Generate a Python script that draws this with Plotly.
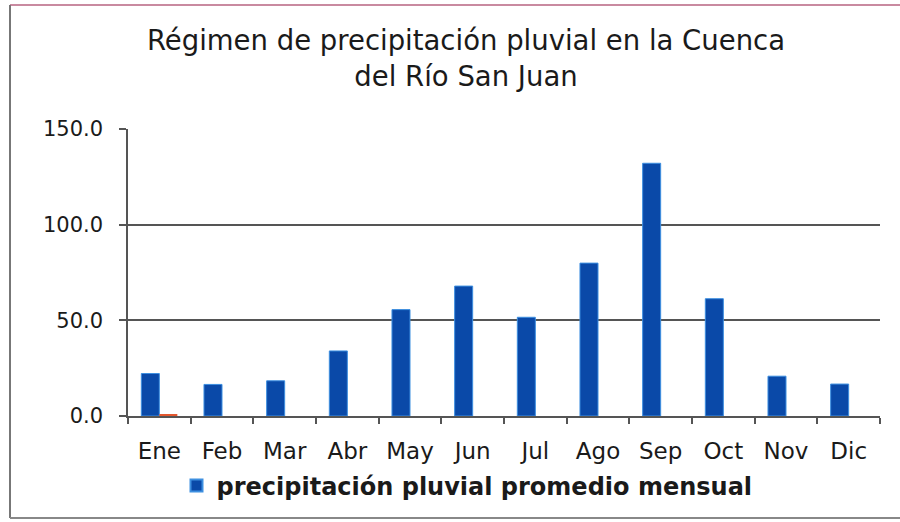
import plotly.graph_objects as go

meses = ["Ene", "Feb", "Mar", "Abr", "May", "Jun", "Jul", "Ago", "Sep", "Oct", "Nov", "Dic"]
precipitacion = [22.2, 16.5, 18.4, 34.0, 55.6, 67.9, 51.6, 79.9, 132.1, 61.3, 20.8, 16.7]
serie_secundaria = [1.0, 0, 0, 0, 0, 0, 0, 0, 0, 0, 0, 0]
y_ticks = [0, 50, 100, 150]
y_tick_labels = ["0.0", "50.0", "100.0", "150.0"]

W, H = 900, 522
L, R, T, B = 128, 20, 129, 106
pw = W - L - R
ph = H - T - B

def px(x):
    return (x - L) / pw

def py(y):
    return (H - B - y) / ph

FONT = "DejaVu Sans, Noto Sans, sans-serif"

fig = go.Figure()
fig.add_trace(go.Bar(
    x=meses, y=precipitacion,
    name="precipitación pluvial promedio mensual",
    marker=dict(color="#0A49A8", line=dict(color="#3D8FE0", width=1)),
))
fig.add_trace(go.Bar(
    x=meses, y=serie_secundaria,
    name="serie 2", showlegend=False,
    marker=dict(color="#E4572E", line=dict(width=0)),
))

fig.update_layout(
    width=W, height=H,
    margin=dict(l=L, r=R, t=T, b=B),
    paper_bgcolor="white", plot_bgcolor="white",
    barmode="group", bargap=0.425, bargroupgap=0,
    font=dict(family=FONT, color="#1a1a1a"),
    title=dict(
        text="Régimen de precipitación pluvial en la Cuenca<br>del Río San Juan",
        x=466 / W, xanchor="center",
        y=1 - 50 / H, yanchor="middle",
        font=dict(size=27.5, color="#1a1a1a", family=FONT),
    ),
    xaxis=dict(
        type="category",
        showline=True, linecolor="#555", linewidth=1.5,
        ticks="outside", ticklen=6, tickcolor="#555", tickwidth=1.5,
        tickson="boundaries",
        ticklabelstandoff=14,
        tickfont=dict(size=23, color="#1a1a1a"),
        showgrid=False,
    ),
    yaxis=dict(
        range=[0, 150],
        tickvals=y_ticks, ticktext=y_tick_labels,
        showline=True, linecolor="#555", linewidth=1.5,
        ticks="outside", ticklen=7, tickcolor="#555", tickwidth=1.5,
        ticklabelstandoff=12,
        showgrid=True, gridcolor="#555", gridwidth=1.5,
        zeroline=False,
        tickfont=dict(size=21, color="#1a1a1a"),
    ),
    legend=dict(
        orientation="h",
        x=px(467), xanchor="center",
        y=py(486), yanchor="middle",
        font=dict(size=24, color="#1a1a1a", family=FONT, weight="bold"),
        itemsizing="constant",
    ),
    shapes=[
        dict(type="line", xref="paper", yref="paper", x0=px(10), x1=px(900), y0=py(5), y1=py(5),
             line=dict(color="#C98AA0", width=2)),
        dict(type="line", xref="paper", yref="paper", x0=px(10), x1=px(10), y0=py(5), y1=py(518),
             line=dict(color="#777", width=2)),
        dict(type="line", xref="paper", yref="paper", x0=px(10), x1=px(900), y0=py(518), y1=py(518),
             line=dict(color="#888", width=2)),
    ],
)

fig.write_html(
    "out.html",
    config={"displayModeBar": False},
    post_script="document.body.style.margin='0';document.body.style.padding='0';",
)
